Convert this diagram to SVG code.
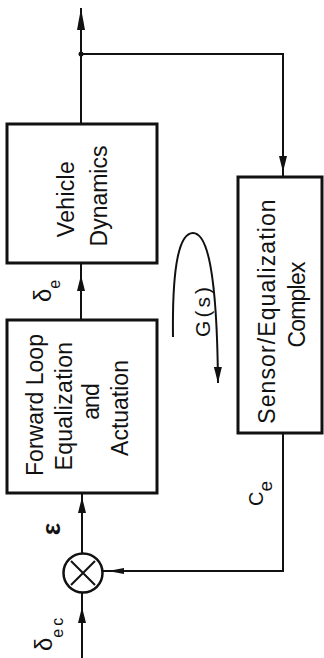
<svg xmlns="http://www.w3.org/2000/svg" width="324" height="658" viewBox="0 0 324 658">
<style>
.box{fill:none;stroke:#111;stroke-width:3}
.ln{fill:none;stroke:#111;stroke-width:2}
.lbl{font-family:"Liberation Sans",Arial,sans-serif;font-size:23px;fill:#111;text-anchor:middle}
.sym{font-family:"Liberation Sans",Arial,sans-serif;fill:#111}
</style>
<defs>
<marker id="ah" viewBox="0 0 16 8" refX="16" refY="4" markerWidth="16" markerHeight="8" markerUnits="userSpaceOnUse" orient="auto">
<path d="M0,0 L16,4 L0,8 z" fill="#111"/>
</marker>
<marker id="ahl" viewBox="0 0 22 8" refX="22" refY="4" markerWidth="22" markerHeight="8" markerUnits="userSpaceOnUse" orient="auto">
<path d="M0,0 L22,4 L0,8 z" fill="#111"/>
</marker>
</defs>

<g id="connectors">
<path class="ln" d="M81,124 L81,8" marker-end="url(#ahl)"/>
<circle cx="81" cy="54" r="2.5" fill="#111"/>
<path class="ln" d="M81,54 L283,54 L283,172" marker-end="url(#ah)"/>
<path class="ln" d="M283,172 L283,177"/>
<path class="ln" d="M81,320 L81,275" marker-end="url(#ah)"/>
<path class="ln" d="M81,275 L81,263"/>
<path class="ln" d="M82,554 L82,497" marker-end="url(#ah)"/>
<path class="ln" d="M82,497 L82,493"/>
<path class="ln" d="M82,658 L82,607" marker-end="url(#ah)"/>
<path class="ln" d="M82,607 L82,593"/>
<path class="ln" d="M283,433 L283,571 L103,571"/>
<path d="M108,571 L124,568 L124,574 z" fill="#111"/>
<path class="ln" d="M173,337 C172,262 180,233 193,233 C207,233 217,270 218,383" marker-end="url(#ah)"/>
</g>

<g id="vehicle-dynamics">
<rect class="box" x="7" y="124" width="150" height="139"/>
<text class="lbl" transform="translate(74,199) rotate(-90)" letter-spacing="0.3">Vehicle</text>
<text class="lbl" transform="translate(107,196) rotate(-90)">Dynamics</text>
</g>

<g id="forward-loop">
<rect class="box" x="7" y="320" width="150" height="173"/>
<text class="lbl" transform="translate(43,405) rotate(-90)" font-size="22">Forward Loop</text>
<text class="lbl" transform="translate(72,406) rotate(-90)" letter-spacing="0.3">Equalization</text>
<text class="lbl" transform="translate(99,402) rotate(-90)" font-size="21" letter-spacing="-1">and</text>
<text class="lbl" transform="translate(128,408) rotate(-90)">Actuation</text>
</g>

<g id="sensor-equalization">
<rect class="box" x="238" y="177" width="84" height="256"/>
<text class="lbl" transform="translate(275,311) rotate(-90)" letter-spacing="1.1">Sensor/Equalization</text>
<text class="lbl" transform="translate(305,305) rotate(-90)" font-size="21" letter-spacing="-0.8">Complex</text>
</g>

<g id="summing-junction">
<circle cx="83" cy="573" r="19.5" fill="none" stroke="#111" stroke-width="2.5"/>
<path class="ln" d="M71,561 L95,585 M95,561 L71,585"/>
</g>

<g id="labels">
<text class="sym" transform="translate(51,302) rotate(-90)" font-size="24">δ<tspan font-size="16" dy="9">e</tspan></text>
<text class="sym" transform="translate(60,529) rotate(-90)" font-size="26" font-weight="bold" text-anchor="middle">ε</text>
<text class="sym" transform="translate(52,651) rotate(-90)" font-size="24">δ<tspan font-size="16" dy="11" letter-spacing="3">ec</tspan></text>
<text class="sym" transform="translate(263,506) rotate(-90)" font-size="20">C<tspan font-size="19" dy="9">e</tspan></text>
<text class="sym" transform="translate(210,312) rotate(-90)" font-size="21" text-anchor="middle" textLength="50" lengthAdjust="spacing">G(s)</text>
</g>
</svg>
